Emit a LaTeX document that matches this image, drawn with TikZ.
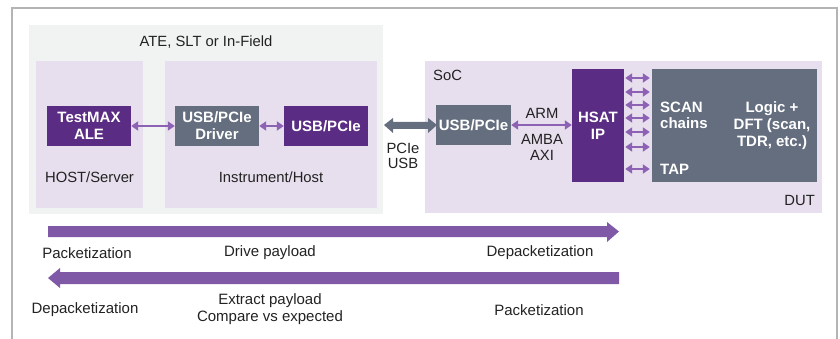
\documentclass[tikz,border=0pt]{standalone}
\usepackage{fontspec}
\setmainfont{Liberation Sans}
\usetikzlibrary{arrows.meta}
\definecolor{framegray}{HTML}{B4B4B4}
\definecolor{atebg}{HTML}{F1F2F2}
\definecolor{lav}{HTML}{E7DEEE}
\definecolor{slate}{HTML}{646E7F}
\definecolor{dpurple}{HTML}{5B2C83}
\definecolor{lpurple}{HTML}{8D62B4}
\definecolor{bpurple}{HTML}{7F59A5}
\definecolor{txt}{HTML}{222222}
\begin{document}
\begin{tikzpicture}[x=1pt,y=-1pt,
  area/.style={draw=none,inner sep=0pt,minimum width=#1},
  blk/.style={draw=none,inner sep=0pt,text=white,font=\fontsize{15}{17}\selectfont\bfseries,align=center},
  lbl/.style={inner sep=0pt,text=txt,font=\fontsize{14.8}{17}\selectfont,align=center},
  blbl/.style={inner sep=0pt,text=txt,font=\fontsize{15}{17}\selectfont,align=center},
  dbl/.style={draw=lpurple,line width=2.2pt,{Triangle[length=7pt,width=9pt]}-{Triangle[length=7pt,width=9pt]}}
]
\useasboundingbox (0,0) rectangle (840,339);
% outer frame
\draw[framegray,line width=2pt] (12,339) -- (12,8) -- (837,8) -- (837,339);
% areas
\node[area=354pt,minimum height=189pt,fill=atebg] (ate) at (206,119.5) {};
\node[area=107pt,minimum height=147pt,fill=lav] (host) at (89.5,134.5) {};
\node[area=212pt,minimum height=147pt,fill=lav] (inst) at (271,134.5) {};
\node[area=397pt,minimum height=152pt,fill=lav] (soc) at (623.5,137) {};
% labels of areas
\node[lbl] (atel) at (206,42) {ATE, SLT or In-Field};
\node[lbl] (hostl) at (89.5,177) {HOST/Server};
\node[lbl] (instl) at (271,177) {Instrument/Host};
\node[lbl,anchor=west] (socl) at (433,75) {SoC};
\node[lbl,anchor=east] (dutl) at (815,200) {DUT};
% blocks
\node[blk,fill=dpurple,minimum width=84pt,minimum height=40pt] (ale) at (89,126) {TestMAX\\ALE};
\node[blk,fill=slate,minimum width=84pt,minimum height=40pt] (drv) at (217,126) {USB/PCIe\\Driver};
\node[blk,fill=dpurple,minimum width=84pt,minimum height=40pt] (usbh) at (326,126) {USB/PCIe};
\node[blk,fill=slate,minimum width=75pt,minimum height=40pt] (usbs) at (473.5,125) {USB/PCIe};
\node[blk,fill=dpurple,minimum width=52pt,minimum height=113pt] (hsat) at (598,125.5) {HSAT\\IP};
\node[blk,fill=slate,minimum width=165pt,minimum height=113pt] (logic) at (734.5,125.5) {};
\node[blk] (logict) at (772,126) {Logic +\\DFT (scan,\\TDR, etc.)};
\node[blk,anchor=west,align=left,font=\fontsize{15}{16}\selectfont\bfseries] (scan) at (660,115) {SCAN\\chains};
\node[blk,anchor=west] (tap) at (660,169) {TAP};
% connectors
\draw[dbl] (ale.east) -- (drv.west);
\draw[dbl] (drv.east) -- (usbh.west);
\draw[dbl] (usbs.east) -- (hsat.west |- usbs.east);
\foreach \dy in {47.5,33.5,20.5,7.5,-6.5,-21.5,-43.5}{
  \draw[dbl,shorten <=1pt,shorten >=2pt] ([yshift=\dy pt]hsat.east) -- ([yshift=\dy pt]logic.west);
}
\node[lbl] (arm) at (542,113) {ARM};
\node[lbl] (amba) at (542,139) {AMBA};
\node[lbl] (axi) at (542,155) {AXI};
% big gray PCIe/USB arrow
\fill[slate] (384,125) -- (393,118) -- (393,122) -- (428,122) -- (428,118) -- (437,125) -- (428,133) -- (428,129) -- (393,129) -- (393,133) -- cycle;
\node[lbl] (pcie) at (403,148) {PCIe};
\node[lbl] (usbl) at (403,163) {USB};
% bottom flow arrows
\fill[bpurple] (48,226) -- (607,226) -- (607,222) -- (619,231.5) -- (607,242) -- (607,237) -- (48,237) -- cycle;
\fill[bpurple] (619,272) -- (60,272) -- (60,268) -- (48,278) -- (60,288) -- (60,284) -- (619,284) -- cycle;
\node[blbl] (p1) at (87,253) {Packetization};
\node[blbl] (d1) at (270,253) {Drive payload};
\node[blbl] (dp1) at (540,253) {Depacketization};
\node[blbl] (dp2) at (85,310) {Depacketization};
\node[blbl] (ex) at (270,309.5) {Extract payload\\Compare vs expected};
\node[blbl] (p2) at (539,310) {Packetization};
\end{tikzpicture}
\end{document}
